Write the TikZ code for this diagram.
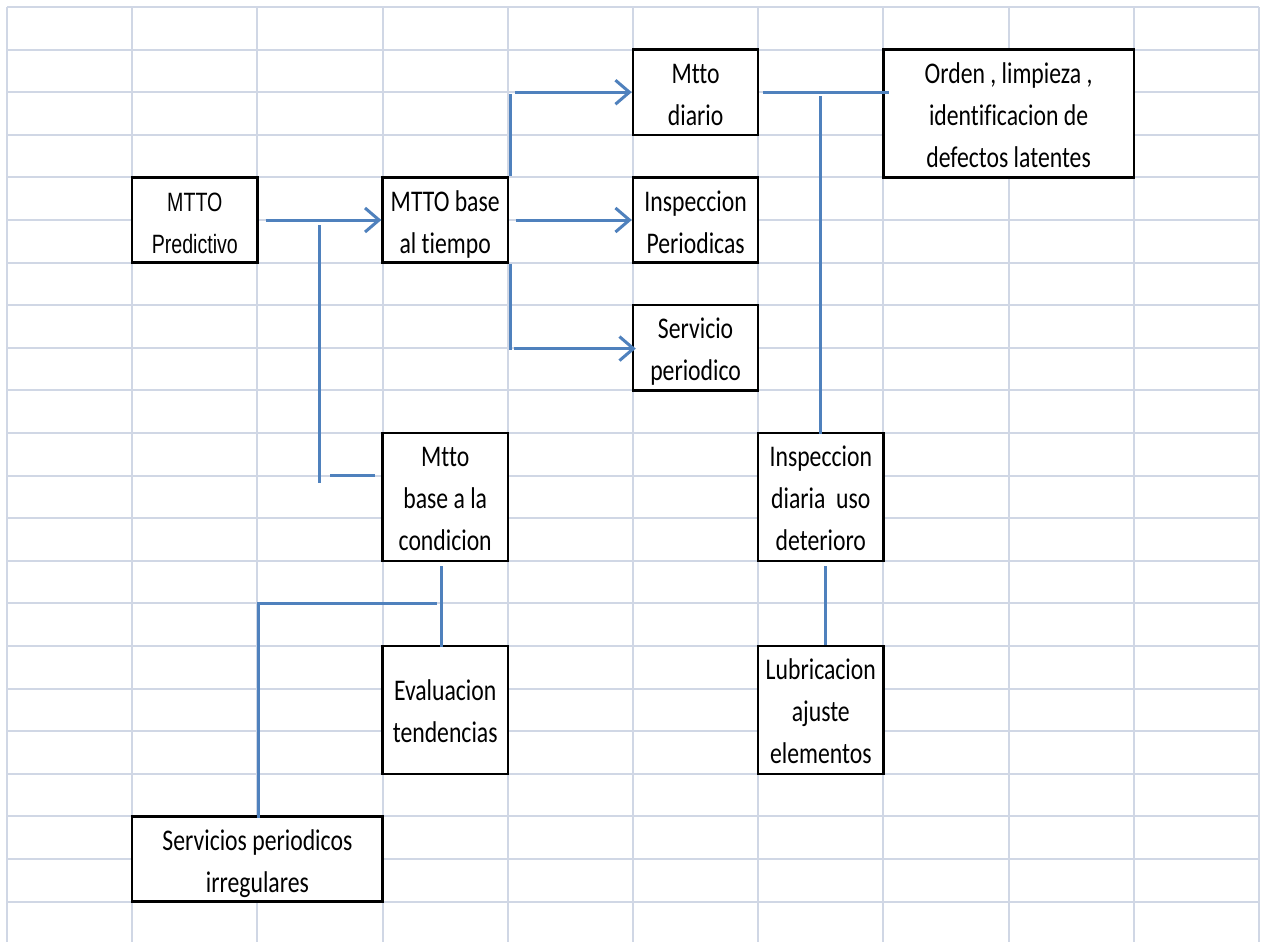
\documentclass[tikz,border=0pt]{standalone}
\usepackage{fontspec}
\setmainfont{Carlito}[FakeStretch=0.79, Ligatures=CommonOff]
\newfontfamily\narrowsans{Liberation Sans}[FakeStretch=0.74]
\usetikzlibrary{arrows.meta,calc}

\definecolor{gridcol}{RGB}{208,215,229}
\definecolor{linkblue}{RGB}{79,129,189}

% one text row of a cell: 33pt above the baseline, 9pt below
\newcommand\rowstrut{\rule[-9pt]{0pt}{42pt}}

\begin{document}
\begin{tikzpicture}[x=1pt,y=-1pt,
  cell/.style={draw=black, line width=2.5pt, fill=white, align=center,
    inner sep=0pt, font=\fontsize{30}{42}\selectfont,
    execute at end node=\rowstrut},
  onecol/.style={minimum width=125.2pt},
  twocol/.style={minimum width=250.4pt},
  tworow/.style={minimum height=85.2pt},
  threerow/.style={minimum height=127.8pt},
  link/.style={draw=linkblue, line width=3pt},
  arr/.style={link, -{Straight Barb[length=14pt,width=24pt,line width=3pt]}}]

% sheet and its cell grid
\fill[white] (0,0) rectangle (1269,942);
\useasboundingbox (0,0) rectangle (1269,942);
\foreach \k in {0,...,10}
  \draw[gridcol, line width=2pt] ({7+125.2*\k},7) -- ({7+125.2*\k},942);
\foreach \k in {0,...,21}
  \draw[gridcol, line width=2pt] (7,{7+42.6*\k}) -- (1259,{7+42.6*\k});

% boxes
\node[cell, onecol, tworow, font=\narrowsans\fontsize{26.5}{42}\selectfont]
  (pred) at (194.8,220) {\rowstrut MTTO\\Predictivo};
\node[cell, onecol, tworow] (tiempo) at (445.2,220) {\rowstrut MTTO base\\al tiempo};
\node[cell, onecol, tworow] (diario) at (695.6,92.2) {\rowstrut Mtto\\diario};
\node[cell, onecol, tworow] (insp) at (695.6,220) {\rowstrut Inspeccion\\Periodicas};
\node[cell, onecol, tworow] (serv) at (695.6,347.8) {\rowstrut Servicio\\periodico};
\node[cell, twocol, threerow] (orden) at (1008.6,113.5)
  {\rowstrut Orden , limpieza ,\\identificacion de\\defectos latentes};
\node[cell, onecol, threerow] (cond) at (445.2,496.9) {\rowstrut Mtto\\base a la\\condicion};
\node[cell, onecol, threerow] (eval) at (445.2,709.9) {\rowstrut Evaluacion\\tendencias};
\node[cell, onecol, threerow] (inspd) at (820.8,496.9) {\rowstrut Inspeccion\\diaria~~uso\\deterioro};
\node[cell, onecol, threerow] (lub) at (820.8,709.9) {\rowstrut Lubricacion\\ajuste\\elementos};
\node[cell, twocol, tworow] (irreg) at (257.4,859) {\rowstrut Servicios periodicos\\irregulares};

% connectors
\draw[arr] ($(pred.east)+(7,0)$) -- (tiempo.west);
\coordinate (bTop) at (319,225);
\coordinate (bBot) at (319,483);
\draw[link] (bTop) -- (bBot);
\coordinate (cStub) at (330,475.6);
\draw[link] (cStub) -- ($(cStub -| cond.west)+(-6,0)$);

\draw[link] ($(tiempo.north east)+(1.5,0)$) -- ++(0,-82.4);
\coordinate (uStart) at (515,92.2);
\draw[arr] (uStart) -- (diario.west);
\draw[arr] ($(tiempo.east)+(7,0)$) -- (insp.west);
\draw[link] ($(tiempo.south east)+(1.5,0)$) -- ++(0,86);
\coordinate (lStart) at (514,348.6);
\draw[arr] (lStart) -- ($(lStart -| serv.west)+(4,0)$);

\draw[link] ($(diario.east)+(4,0)$) -- ($(diario.east -| orden.west)+(7,0)$);
\draw[link] ($(inspd.north)+(0,2)$) -- ++(0,-338);
\draw[link] ($(inspd.south)+(5,4)$) -- ($(lub.north)+(5,0)$);

\draw[link] ($(cond.south)+(-4,4)$) -- ($(eval.north)+(-4,2)$);
\coordinate (jR) at (437,603.4);
\coordinate (jL) at (258,603.4);
\draw[link] (jR) -- (jL) -- ($(irreg.north)+(0.6,3)$);
\end{tikzpicture}
\end{document}
